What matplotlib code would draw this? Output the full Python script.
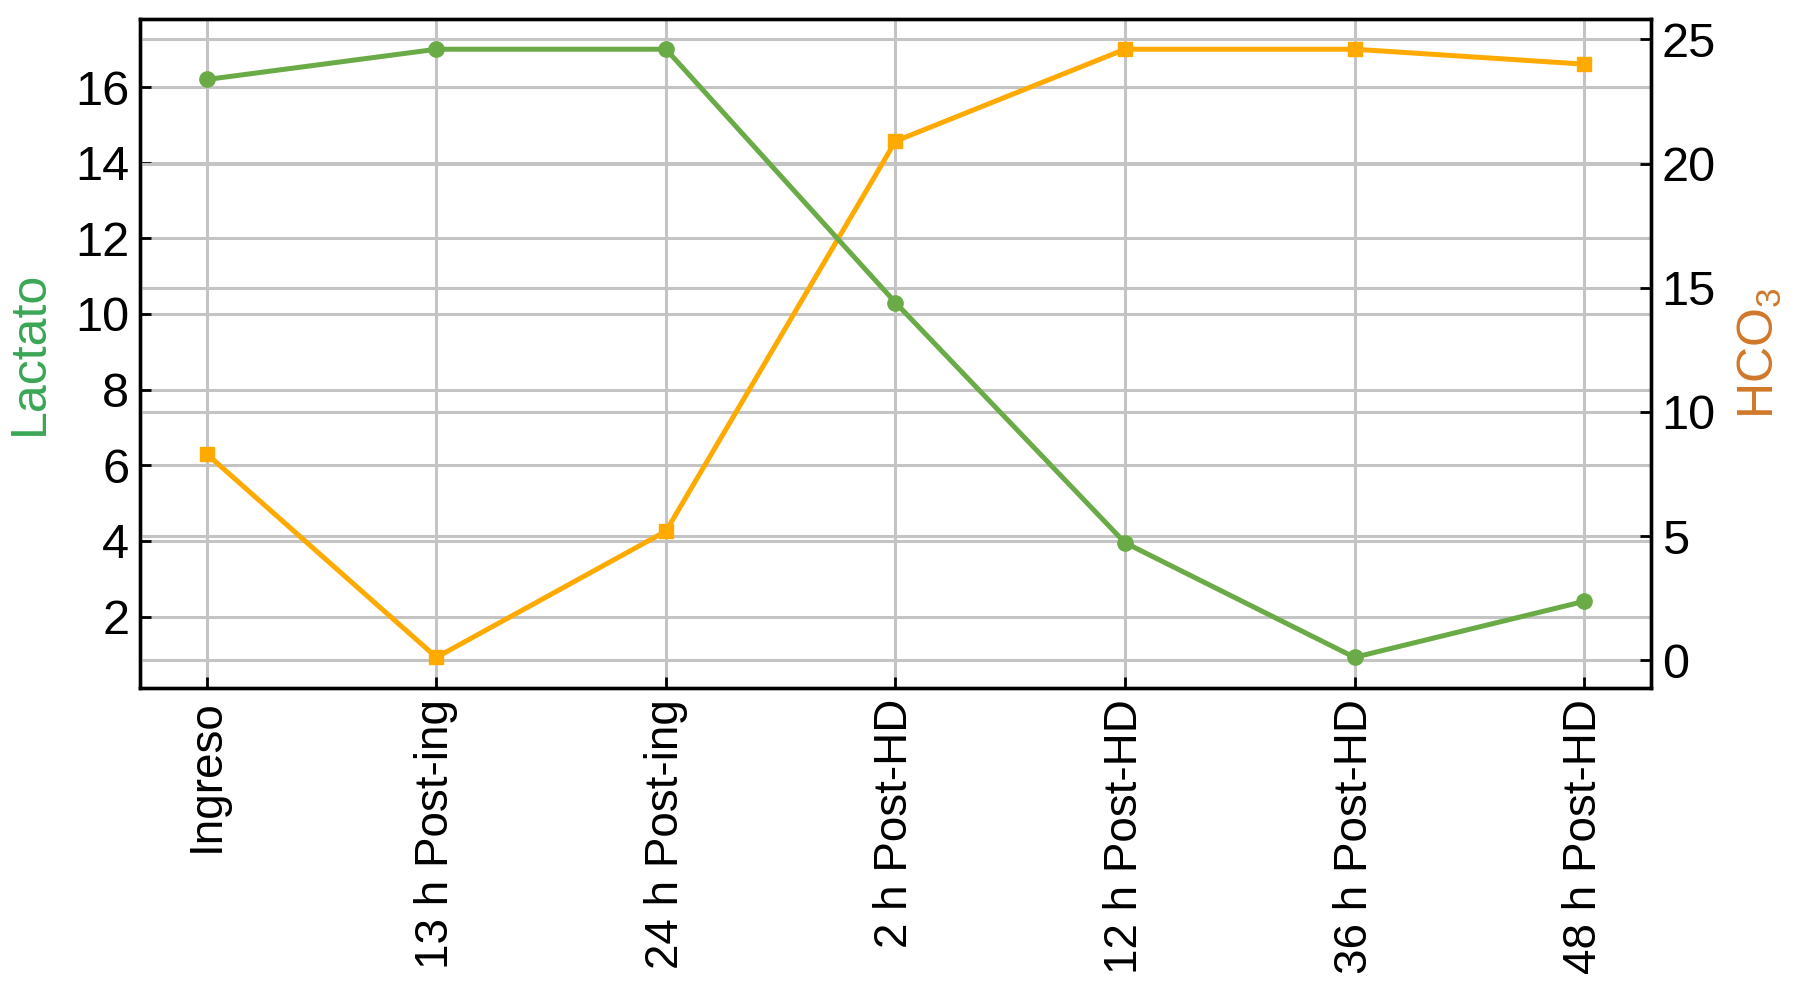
import matplotlib
matplotlib.use("Agg")
import matplotlib.pyplot as plt
from matplotlib.ticker import MultipleLocator

categories = ["Ingreso", "13 h Post-ing", "24 h Post-ing", "2 h Post-HD",
              "12 h Post-HD", "36 h Post-HD", "48 h Post-HD"]
lactato = [16.2, 17.0, 17.0, 10.3, 3.95, 0.92, 2.4]
hco3 = [8.3, 0.12, 5.2, 20.9, 24.6, 24.6, 24.0]

plt.rcParams['font.family'] = ['Liberation Sans', 'DejaVu Sans']
plt.rcParams['mathtext.fontset'] = 'custom'
plt.rcParams['mathtext.rm'] = 'Liberation Sans'
plt.rcParams['mathtext.it'] = 'Liberation Sans'

GREEN = '#6aab47'
ORANGE = '#ffaa00'
GRID = '#c4c4c4'

fig = plt.figure(figsize=(18, 9.91), dpi=100)
ax1 = fig.add_axes([0.078, 0.306, 0.839, 0.675])
ax2 = ax1.twinx()
ax3 = ax1.twinx()
ax3.sharey(ax1)

x = list(range(len(categories)))

ax2.plot(x, hco3, color=ORANGE, lw=3.6, marker='s', ms=10.5, zorder=3)
ax3.plot(x, lactato, color=GREEN, lw=3.6, marker='o', ms=11, zorder=3)
ax3.axis('off')

ax1.set_xlim(-0.29, len(categories) - 1 + 0.29)
ax1.set_xticks(x)
ax1.set_xticklabels(categories, rotation=90, fontsize=33)
ax1.yaxis.set_major_locator(MultipleLocator(2))
ax2.yaxis.set_major_locator(MultipleLocator(5))

for ax in (ax1, ax2):
    ax.tick_params(axis='both', direction='in', length=8, width=2, labelsize=35, pad=8)
    for s in ax.spines.values():
        s.set_linewidth(2.4)
ax1.tick_params(axis='x', labelsize=33)

ax1.grid(True, axis='both', color=GRID, lw=2.2)
ax2.grid(True, axis='y', color=GRID, lw=2.2)
ax1.set_axisbelow(True)
ax2.set_axisbelow(True)

ax1.set_ylabel('Lactato', color='#3aa655', fontsize=36, labelpad=16)
ax2.set_ylabel(r'HCO$_3$', color='#d0782a', fontsize=36, labelpad=14)

fig.savefig('out.png', dpi=100)
